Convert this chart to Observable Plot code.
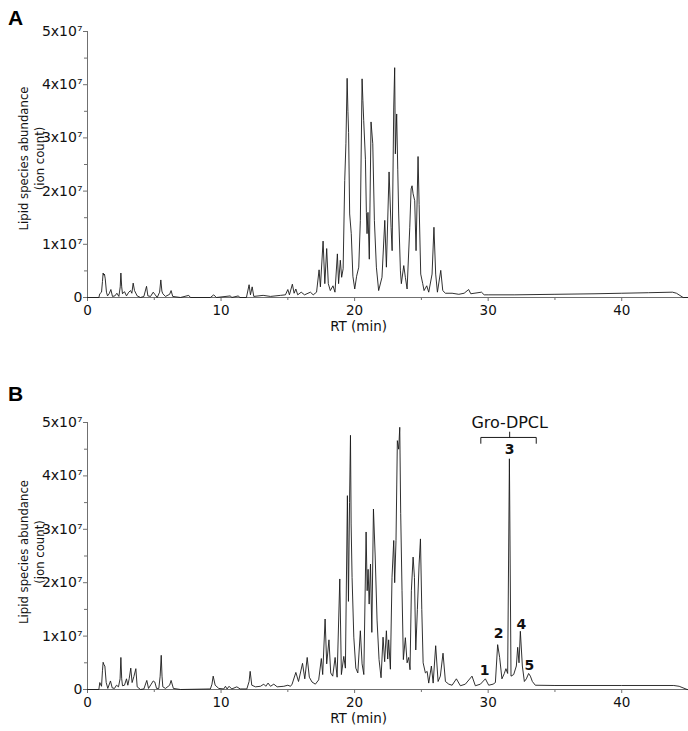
<!DOCTYPE html>
<html>
<head>
<meta charset="utf-8">
<script src="https://cdn.jsdelivr.net/npm/d3@7"></script>
<script src="https://cdn.jsdelivr.net/npm/@observablehq/plot@0.6"></script>
<style>
  html, body { margin: 0; padding: 0; background: #fff; }
  #wrap { position: relative; width: 688px; height: 731px; overflow: hidden; }
  .panel-letter { position: absolute; left: 8px; font: bold 21px "Liberation Sans", Arial, sans-serif; line-height: 21px; color: #000; }
  #wrap svg { display: block; }
</style>
</head>
<body>
<div id="wrap">
  <div id="plots"></div>
  <div class="panel-letter" style="top:7px">A</div>
  <div class="panel-letter" style="top:383px">B</div>
</div>
<script>
// ---- Data (retention time in min, abundance in units of 10^7 ion counts) ----
const rtA = [0,0.85,0.92,1.05,1.12,1.17,1.22,1.27,1.33,1.42,1.5,1.62,1.75,1.87,2.05,2.2,2.35,2.45,2.5,2.56,2.62,2.77,2.92,3.09,3.22,3.32,3.42,3.52,3.72,3.97,4.22,4.42,4.52,4.72,4.92,5.07,5.22,5.4,5.49,5.57,5.64,5.84,6.15,6.26,6.38,6.96,7.58,7.71,9.2,9.45,9.65,10.7,10.8,11.3,11.4,11.9,12.1,12.2,12.33,12.45,13.15,13.7,14.45,14.82,15.0,15.12,15.34,15.47,15.6,15.74,16.0,16.25,16.69,16.9,17.15,17.34,17.44,17.64,17.77,17.91,18.03,18.18,18.38,18.53,18.71,18.8,18.93,19.03,19.14,19.26,19.35,19.44,19.5,19.55,19.63,19.75,19.87,20.01,20.15,20.31,20.43,20.56,20.62,20.68,20.81,20.88,20.93,21.0,21.1,21.23,21.36,21.48,21.63,21.8,22.05,22.26,22.38,22.58,22.73,22.81,22.93,23.0,23.05,23.15,23.23,23.3,23.43,23.5,23.68,23.8,23.93,24.13,24.23,24.3,24.38,24.5,24.6,24.75,24.83,24.95,25.1,25.2,25.4,25.55,25.8,25.94,26.07,26.2,26.45,26.6,26.8,27.3,27.8,28.2,28.54,28.7,29.5,29.7,30,32,35,38,40,42,43.8,44.1,44.6,45];
const abA = [0,0,0.07,0.1,0.3,0.46,0.42,0.44,0.35,0.1,0.03,0.07,0.15,0.02,0.03,0.08,0.02,0.2,0.46,0.2,0.07,0.11,0.03,0.1,0.13,0.08,0.27,0.13,0.03,0,0.02,0.21,0.03,0.02,0.1,0.05,0,0.1,0.33,0.12,0.07,0.02,0.06,0.13,0.02,0,0.04,0,0,0.05,0,0.03,0,0.03,0,0,0.24,0.05,0.2,0.02,0.04,0.02,0.04,0.05,0.15,0.05,0.25,0.08,0.16,0.05,0.1,0.05,0.1,0.05,0.1,0.52,0.2,1.06,0.26,0.92,0.26,0.13,0.22,0.1,0.82,0.26,0.7,0.38,0.54,2.2,2.9,4.12,3.5,3.1,1.57,1.2,0.4,0.16,0.4,0.57,1.45,4.11,3.7,3.33,2.6,1.6,1.2,1.6,0.72,3.3,2.89,1.45,0.57,0.13,0.38,1.45,0.57,2.36,1.32,0.88,3.58,4.32,2.7,3.45,2.4,1.57,0.5,0.26,0.6,0.38,0.16,1.32,2.04,2.1,1.95,1.82,0.88,2.65,1.75,0.44,0.26,0.13,0.22,0.1,0.44,1.32,0.44,0.1,0.51,0.13,0.08,0.08,0.06,0.08,0.15,0.07,0.1,0.05,0.05,0.05,0.06,0.07,0.08,0.09,0.1,0.08,0,0];

const rtB = [0,0.85,0.92,1.05,1.12,1.17,1.24,1.3,1.4,1.52,1.72,1.85,2.02,2.17,2.32,2.44,2.5,2.56,2.62,2.77,2.92,3.02,3.12,3.24,3.34,3.47,3.62,3.72,3.97,4.22,4.44,4.57,4.77,4.92,5.04,5.17,5.34,5.44,5.52,5.58,5.64,5.84,6.15,6.26,6.43,6.96,9.2,9.32,9.41,9.56,9.83,10.2,10.33,10.45,10.6,10.8,11.18,11.43,11.93,12.1,12.18,12.3,12.58,12.95,13.2,13.35,13.52,13.7,13.95,14.2,14.7,15.0,15.2,15.32,15.6,15.8,16.1,16.27,16.45,16.61,16.81,17.06,17.31,17.51,17.61,17.79,17.91,18.08,18.21,18.36,18.54,18.69,18.89,19.01,19.19,19.31,19.46,19.54,19.62,19.69,19.74,19.81,19.94,20.09,20.24,20.43,20.56,20.69,20.86,20.94,21.01,21.09,21.19,21.29,21.41,21.54,21.68,21.83,21.98,22.13,22.25,22.38,22.48,22.55,22.68,22.8,22.93,23.0,23.1,23.2,23.3,23.38,23.45,23.55,23.65,23.8,23.93,24.05,24.15,24.25,24.38,24.48,24.58,24.7,24.83,24.93,25.03,25.13,25.3,25.43,25.55,25.75,25.88,26.07,26.25,26.42,26.62,26.8,27.05,27.3,27.62,27.92,28.29,28.79,29.04,29.42,29.79,30.04,30.37,30.54,30.71,30.86,31.03,31.21,31.33,31.46,31.59,31.71,31.91,32.11,32.21,32.31,32.41,32.56,32.71,32.86,33.03,33.16,33.31,33.53,35,40,43.9,44.3,44.9,45];
const abB = [0,0,0.13,0.06,0.35,0.51,0.46,0.44,0.13,0.02,0.16,0.03,0.02,0.08,0.05,0.2,0.6,0.2,0.07,0.08,0.2,0.08,0.2,0.4,0.13,0.24,0.39,0.05,0,0.01,0.17,0.02,0.1,0.16,0.14,0.02,0.02,0.25,0.64,0.25,0.05,0.02,0.08,0.17,0.02,0,0.01,0.1,0.25,0.08,0.02,0.01,0.06,0.01,0.06,0.01,0.05,0.01,0.01,0.15,0.34,0.08,0.05,0.06,0.1,0.06,0.12,0.06,0.1,0.05,0.06,0.08,0.06,0.1,0.32,0.15,0.49,0.2,0.6,0.23,0.14,0.1,0.18,0.58,0.28,1.32,0.48,0.93,0.31,0.25,0.6,0.23,2.07,0.28,0.62,0.4,3.63,1.65,3.5,4.76,3.1,2.1,0.98,0.4,0.31,1.1,0.48,0.28,2.95,1.85,2.25,1.6,2.35,1.07,3.38,2.5,1.3,0.56,0.22,0.98,0.52,1.1,0.57,0.93,0.38,2.1,2.79,2.0,2.79,4.66,4.5,4.91,3.3,1.85,0.56,0.97,0.5,0.6,0.37,1.85,2.48,2.1,0.74,1.5,2.35,2.82,1.5,0.5,0.31,0.34,0.12,0.44,0.12,0.82,0.15,0.25,0.68,0.15,0.1,0.08,0.2,0.07,0.1,0.25,0.07,0.1,0.2,0.08,0.1,0.13,0.84,0.6,0.2,0.3,0.39,0.3,4.32,0.25,0.28,0.44,0.79,0.5,1.09,0.44,0.15,0.2,0.3,0.25,0.15,0.08,0.075,0.075,0.075,0.06,0,0];

// Gro-DPCL peak labels (label, RT, abundance of label centre)
const peakLabels = ["1","2","3","4","5"];
const peakLabelRT = [29.74,30.78,31.61,32.49,33.09];
const peakLabelAb = [0.36,1.04,4.49,1.22,0.44];
// Bracket spanning the Gro-DPCL peaks
const bracketRT = [29.45, 33.6];
const bracketAb = [4.61, 4.72, 4.82];
const bracketTitle = "Gro-DPCL";

const xTicks = [0,10,20,30,40];
const xMinorTicks = [5,15,25,35,45];
const yTicks = [0,1,2,3,4,5];
const yMinorTicks = [0.5,1.5,2.5,3.5,4.5];
const xLabel = "RT (min)";
const yLabel = "Lipid species abundance\n(ion count)";
const xLabelRT = 20.3;

const FONT = "DejaVu Sans, Verdana, sans-serif";
const AXIS = "#707070";
const INK = "#1a1a1a";

function panel(rt, ab, opts) {
  const data = rt.map((r, i) => ({rt: r, ab: ab[i]}));
  const marks = [
    Plot.ruleY([0], {stroke: AXIS, strokeWidth: 1}),
    Plot.ruleX([0], {stroke: AXIS, strokeWidth: 1}),
    Plot.axisX({ticks: xTicks, tickSize: 4, tickPadding: 4, stroke: AXIS, fill: "#111", label: null, fontSize: 13.5}),
    Plot.axisX({ticks: xMinorTicks, tickSize: 3, stroke: AXIS, tickFormat: () => "", label: null}),
    Plot.axisY({ticks: yTicks, tickSize: 4, tickPadding: 1, stroke: AXIS, fill: "#111", label: null, fontSize: 14,
      tickFormat: d => d === 0 ? "0" : `${d}x10⁷`}),
    Plot.axisY({ticks: yMinorTicks, tickSize: 3, stroke: AXIS, tickFormat: () => "", label: null}),
    Plot.line(data, {x: "rt", y: "ab", stroke: INK, strokeWidth: 0.9, strokeLinejoin: "round"}),
    Plot.text([xLabel], {x: () => xLabelRT, frameAnchor: "bottom", dy: 33, fontSize: 13.5, fill: "#111"}),
    Plot.text([yLabel], {frameAnchor: "left", textAnchor: "middle", dx: -57, dy: opts.yLabelDy, rotate: -90, fontSize: 13, lineHeight: 1.25,
      fontFamily: "DejaVu Sans Condensed, DejaVu Sans, sans-serif", fill: "#111"})
  ];
  if (opts.extra) marks.push(...opts.extra);
  return Plot.plot({
    width: 688,
    height: opts.height,
    marginLeft: 87,
    marginRight: 0,
    marginTop: opts.marginTop,
    marginBottom: opts.marginBottom,
    x: {domain: [0, 45]},
    y: {domain: [0, 5]},
    style: {fontFamily: FONT, fontSize: "14px", background: "white", overflow: "visible", color: "#111"},
    marks
  });
}

const labelData = peakLabels.map((t, i) => ({t, rt: peakLabelRT[i], ab: peakLabelAb[i]}));
const midRT = peakLabelRT[2];
const bracketPath = [
  {rt: bracketRT[0], ab: bracketAb[0]},
  {rt: bracketRT[0], ab: bracketAb[1]},
  {rt: bracketRT[1], ab: bracketAb[1]},
  {rt: bracketRT[1], ab: bracketAb[0]}
];
const bracketStem = [{rt: midRT, ab: bracketAb[1]}, {rt: midRT, ab: bracketAb[2]}];

const extraB = [
  Plot.line(bracketPath, {x: "rt", y: "ab", stroke: INK, strokeWidth: 1}),
  Plot.line(bracketStem, {x: "rt", y: "ab", stroke: INK, strokeWidth: 1}),
  Plot.text([bracketTitle], {x: () => midRT, y: () => 5.0, fontSize: 16, fill: "#111"}),
  Plot.text(labelData, {x: "rt", y: "ab", text: "t", fontSize: 14, fontWeight: "bold", fill: "#111"})
];

const host = document.getElementById("plots");
host.append(panel(rtA, abA, {height: 345, marginTop: 31, marginBottom: 48, yLabelDy: -6}));
host.append(panel(rtB, abB, {height: 386, marginTop: 77, marginBottom: 42, yLabelDy: -4, extra: extraB}));
</script>
</body>
</html>
